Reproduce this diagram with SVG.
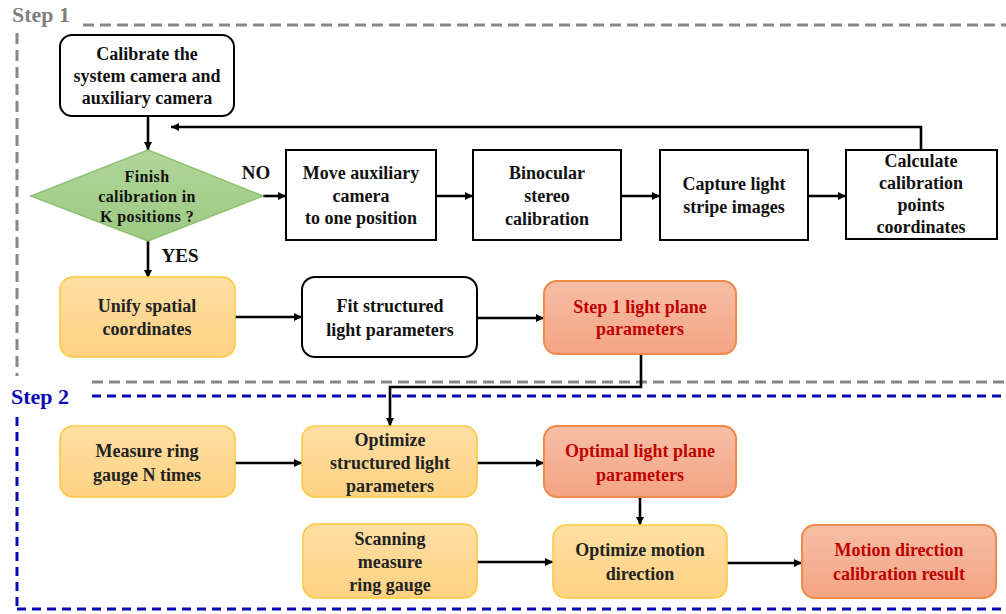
<svg xmlns="http://www.w3.org/2000/svg" width="1006" height="614" viewBox="0 0 1006 614">
<defs>
<linearGradient id="gy" x1="0" y1="0" x2="0" y2="1"><stop offset="0" stop-color="#fedfa4"/><stop offset="1" stop-color="#fed282"/></linearGradient>
<linearGradient id="go" x1="0" y1="0" x2="0" y2="1"><stop offset="0" stop-color="#f6bea6"/><stop offset="1" stop-color="#f4a483"/></linearGradient>
<linearGradient id="gg" x1="0" y1="0" x2="0" y2="1"><stop offset="0" stop-color="#b0d69a"/><stop offset="1" stop-color="#9dc982"/></linearGradient>
<marker id="ah" viewBox="0 0 10 10" refX="10" refY="5" markerWidth="10" markerHeight="8" markerUnits="userSpaceOnUse" orient="auto"><path d="M0,0 L10,5 L0,10 z" fill="#000"/></marker>
</defs>
<style>
text{font-family:"Liberation Serif","Times New Roman",serif;font-weight:bold;font-size:18px;text-anchor:middle;fill:#111}
.w{fill:#fff;stroke:#000;stroke-width:2}
.y{fill:url(#gy);stroke:#fdc93a;stroke-width:1.5}
.o{fill:url(#go);stroke:#ee8a4a;stroke-width:2}
.r{fill:#c00000}
.yt{fill:#222}
.c{fill:none;stroke:#000;stroke-width:2.6;marker-end:url(#ah)}
.gd{fill:none;stroke:#888;stroke-width:3;stroke-dasharray:11 6}
.bd{fill:none;stroke:#0a0ab4;stroke-width:3;stroke-dasharray:9 6}
</style>
<g id="frames">
<text x="12" y="22" style="text-anchor:start;font-size:22px;fill:#7f7f7f">Step 1</text>
<path class="gd" d="M83,25 H1006"/>
<path class="gd" d="M17,33 V376"/>
<path class="gd" d="M92,382 H1006"/>
<text x="11" y="404" style="text-anchor:start;font-size:22px;fill:#0a0ab4">Step 2</text>
<path class="bd" d="M92,396 H1006"/>
<path class="bd" d="M17,417 V606"/>
<path class="bd" d="M17,609 H1006"/>
</g>
<g id="connectors">
<path class="c" d="M148,116 V150"/>
<path class="c" d="M148,240 V278"/>
<path class="c" d="M263,196 H286"/>
<path class="c" d="M436,196 H473"/>
<path class="c" d="M621,196 H660"/>
<path class="c" d="M808,196 H846"/>
<path class="c" d="M921,150 V127 H171"/>
<path class="c" d="M235,317 H302"/>
<path class="c" d="M477,318 H544"/>
<path class="c" d="M641,354 V387 H390 V426"/>
<path class="c" d="M235,463 H302"/>
<path class="c" d="M477,463 H544"/>
<path class="c" d="M640,497 V525"/>
<path class="c" d="M477,562 H553"/>
<path class="c" d="M727,563 H802"/>
<text x="256" y="179" style="font-size:19px">NO</text>
<text x="180" y="262" style="font-size:19px">YES</text>
</g>
<g id="n1"><rect class="w" x="60" y="35" width="174" height="81" rx="12"/>
<text x="147" y="60">Calibrate the</text><text x="147" y="82">system camera and</text><text x="147" y="104">auxiliary camera</text></g>
<g id="n2"><polygon points="148,150 263,196 148,241 31,196" fill="url(#gg)" stroke="#8cc071" stroke-width="1.5"/>
<text x="147" y="182" style="font-size:16px;letter-spacing:0.4px">Finish</text><text x="147" y="202" style="font-size:16px;letter-spacing:0.4px">calibration in</text><text x="147" y="222" style="font-size:16px;letter-spacing:0.4px">K positions ?</text></g>
<g id="n3"><rect class="w" x="286" y="150" width="150" height="90"/>
<text x="361" y="179">Move auxiliary</text><text x="361" y="202">camera</text><text x="361" y="224">to one position</text></g>
<g id="n4"><rect class="w" x="473" y="150" width="148" height="90"/>
<text x="547" y="179">Binocular</text><text x="547" y="202">stereo</text><text x="547" y="225">calibration</text></g>
<g id="n5"><rect class="w" x="660" y="150" width="148" height="90"/>
<text x="734" y="190">Capture light</text><text x="734" y="213">stripe images</text></g>
<g id="n6"><rect class="w" x="846" y="150" width="151" height="89"/>
<text x="921" y="167">Calculate</text><text x="921" y="189">calibration</text><text x="921" y="211">points</text><text x="921" y="233">coordinates</text></g>
<g id="n7"><rect class="y" x="60" y="277" width="175" height="80" rx="13"/>
<text class="yt" x="147" y="312">Unify spatial</text><text class="yt" x="147" y="335">coordinates</text></g>
<g id="n8"><rect class="w" x="302" y="277" width="175" height="80" rx="13"/>
<text x="390" y="312">Fit structured</text><text x="390" y="336">light parameters</text></g>
<g id="n9"><rect class="o" x="544" y="281" width="192" height="73" rx="13"/>
<text class="r" x="640" y="313">Step 1 light plane</text><text class="r" x="640" y="335">parameters</text></g>
<g id="n10"><rect class="y" x="60" y="426" width="175" height="71" rx="13"/>
<text class="yt" x="147" y="457">Measure ring</text><text class="yt" x="147" y="481">gauge N times</text></g>
<g id="n11"><rect class="y" x="302" y="426" width="175" height="71" rx="13"/>
<text class="yt" x="390" y="446">Optimize</text><text class="yt" x="390" y="469">structured light</text><text class="yt" x="390" y="492">parameters</text></g>
<g id="n12"><rect class="o" x="544" y="426" width="192" height="71" rx="13"/>
<text class="r" x="640" y="457">Optimal light plane</text><text class="r" x="640" y="481">parameters</text></g>
<g id="n13"><rect class="y" x="303" y="524" width="174" height="74" rx="13"/>
<text class="yt" x="390" y="545">Scanning</text><text class="yt" x="390" y="568">measure</text><text class="yt" x="390" y="591">ring gauge</text></g>
<g id="n14"><rect class="y" x="553" y="525" width="174" height="73" rx="13"/>
<text class="yt" x="640" y="556">Optimize motion</text><text class="yt" x="640" y="580">direction</text></g>
<g id="n15"><rect class="o" x="802" y="525" width="194" height="73" rx="13"/>
<text class="r" x="899" y="556">Motion direction</text><text class="r" x="899" y="580">calibration result</text></g>
</svg>
